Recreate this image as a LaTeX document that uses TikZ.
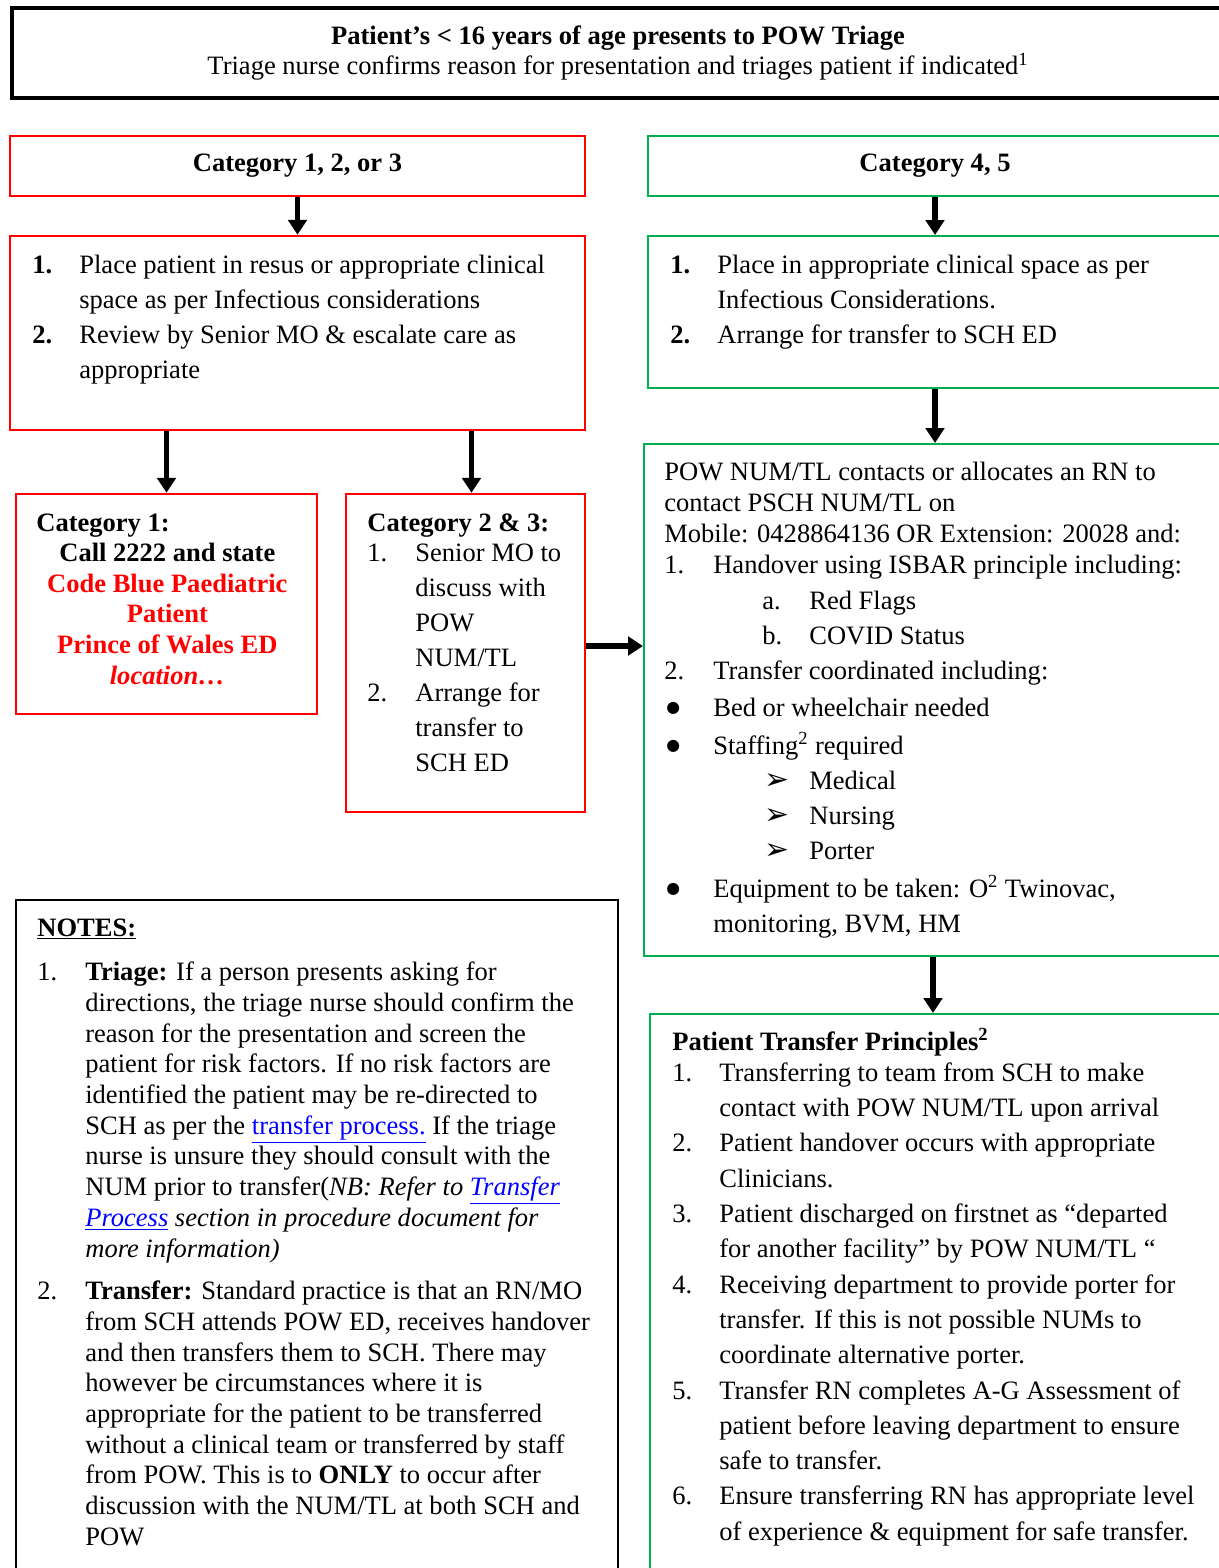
\documentclass[tikz,border=0pt]{standalone}
\usepackage{fontspec}
\setmainfont{Liberation Serif}
\newfontfamily\dejavu{DejaVu Sans}
\usetikzlibrary{positioning,arrows.meta}
\newlength\px
\setlength\px{0.02cm}
\definecolor{boxred}{RGB}{255,0,0}
\definecolor{boxgreen}{RGB}{0,176,80}
\definecolor{linkblue}{RGB}{0,0,255}
\newcommand\lbl[2]{\makebox[#1\px][l]{#2}}
\newcommand\ind[1]{\hspace*{#1\px}}
\newcommand\lnk[1]{\textcolor{linkblue}{\underline{#1}}}
\newcommand\tipmark{{\dejavu\fontsize{17pt}{17pt}\selectfont ➢}}
\newcommand\dotmark{\raisebox{1.8pt}{\dejavu\fontsize{9pt}{9pt}\selectfont ●}}

\begin{document}
\begin{tikzpicture}[x=0.02cm, y=-0.02cm,
    black box/.style={draw, line width=1.6pt, inner sep=0pt},
    red box/.style={draw=boxred, line width=1.4pt, inner sep=0pt},
    green box/.style={draw=boxgreen, line width=1.2pt, inner sep=0pt},
    box font/.style={font=\fontsize{15.1pt}{30\px}\selectfont},
    txt/.style={inner sep=0pt, anchor=base west, font=\fontsize{15.1pt}{35\px}\selectfont,
      execute at begin node={\begin{minipage}[t]{#1\px}},
      execute at end node={\end{minipage}}},
    txt/.default=560,
    flow/.style={line width=3.3pt, -{Triangle[length=8.5pt,width=10.5pt]}}]

  \useasboundingbox (0,0) rectangle (1219,1568);
  \clip (0,0) rectangle (1219,1568);

  % boxes
  \node[black box, box font, line width=1.8pt, align=center, minimum width=1212\px, minimum height=90\px] (triage) at (618,53)
    {\textbf{Patient’s < 16 years of age presents to POW Triage}\\Triage nurse confirms reason for presentation and triages patient if indicated\textsuperscript{1}};
  \node[red box, box font, minimum width=575\px, minimum height=60\px] (cat123) at (297.5,166) {\textbf{Category 1, 2, or 3}};
  \node[green box, box font, minimum width=574\px, minimum height=60\px] (cat45) at (935,166) {\textbf{Category 4, 5}};
  \node[red box, minimum width=575\px, minimum height=194\px] (redsteps) at (297.5,333) {};
  \node[green box, minimum width=574\px, minimum height=152\px] (greensteps) at (935,312) {};
  \node[red box, minimum width=301\px, minimum height=220\px] (cat1) at (166.5,604) {};
  \node[red box, minimum width=239\px, minimum height=318\px] (cat23) at (465.5,653) {};
  \node[green box, minimum width=578\px, minimum height=512\px] (contact) at (933,700) {};
  \node[green box, minimum width=572\px, minimum height=558\px] (principles) at (936,1293) {};
  \node[black box, line width=1.4pt, minimum width=602\px, minimum height=672\px] (notes) at (317,1236) {};

  % box texts
  \node[txt] (redtext) at (32,273) {\lbl{47}{\textbf{1.}}Place patient in resus or appropriate clinical\\
    \ind{47}space as per Infectious considerations\\
    \lbl{47}{\textbf{2.}}Review by Senior MO \& escalate care as\\
    \ind{47}appropriate};
  \node[txt] (greentext) at (670,273) {\lbl{47}{\textbf{1.}}Place in appropriate clinical space as per\\
    \ind{47}Infectious Considerations.\\
    \lbl{47}{\textbf{2.}}Arrange for transfer to SCH ED};
  \node[txt=262, font=\bfseries\fontsize{15.1pt}{30.6\px}\selectfont] (cat1text) at (36,531)
    {\centering\makebox[262\px][l]{Category 1:}\\Call 2222 and state\\
    \textcolor{boxred}{Code Blue Paediatric}\\\textcolor{boxred}{Patient}\\
    \textcolor{boxred}{Prince of Wales ED}\\\textcolor{boxred}{\itshape location…}\par};
  \node[txt=230] (cat23text) at (367,531) {\textbf{Category 2 \& 3:}\\[-5\px]
    \lbl{48}{1.}Senior MO to\\ \ind{48}discuss with\\ \ind{48}POW\\ \ind{48}NUM/TL\\
    \lbl{48}{2.}Arrange for\\ \ind{48}transfer to\\ \ind{48}SCH ED};
  \node[txt, font=\fontsize{15.1pt}{31\px}\selectfont] (contacttext) at (664,480)
    {POW NUM/TL contacts or allocates an RN to\\
    contact PSCH NUM/TL on\\
    Mobile: 0428864136 OR Extension: 20028 and:\\
    \lbl{49}{1.}Handover using ISBAR principle including:\\[5\px]
    \ind{98}\lbl{47}{a.}Red Flags\\[4\px]
    \ind{98}\lbl{47}{b.}COVID Status\\[4\px]
    \lbl{49}{2.}Transfer coordinated including:\\[6\px]
    \ind{2}\lbl{47}{\dotmark}Bed or wheelchair needed\\[7\px]
    \ind{2}\lbl{47}{\dotmark}Staffing\textsuperscript{2} required\\[4\px]
    \ind{100}\lbl{45}{\tipmark}Medical\\[4\px]
    \ind{100}\lbl{45}{\tipmark}Nursing\\[4\px]
    \ind{100}\lbl{45}{\tipmark}Porter\\[7\px]
    \ind{2}\lbl{47}{\dotmark}Equipment to be taken: O\textsuperscript{2} Twinovac,\\[4\px]
    \ind{49}monitoring, BVM, HM};
  \node[txt, font=\fontsize{15.1pt}{35.3\px}\selectfont] (principlestext) at (672,1050)
    {\textbf{Patient Transfer Principles\textsuperscript{2}}\\[-4\px]
    \lbl{47}{1.}Transferring to team from SCH to make\\
    \ind{47}contact with POW NUM/TL upon arrival\\
    \lbl{47}{2.}Patient handover occurs with appropriate\\
    \ind{47}Clinicians.\\
    \lbl{47}{3.}Patient discharged on firstnet as “departed\\
    \ind{47}for another facility” by POW NUM/TL “\\
    \lbl{47}{4.}Receiving department to provide porter for\\
    \ind{47}transfer. If this is not possible NUMs to\\
    \ind{47}coordinate alternative porter.\\
    \lbl{47}{5.}Transfer RN completes A-G Assessment of\\
    \ind{47}patient before leaving department to ensure\\
    \ind{47}safe to transfer.\\
    \lbl{47}{6.}Ensure transferring RN has appropriate level\\
    \ind{47}of experience \& equipment for safe transfer.};
  \node[txt, font=\fontsize{15.1pt}{30.7\px}\selectfont] (notestext) at (37,936)
    {\textbf{\underline{NOTES:}}\\[14\px]
    \lbl{48}{1.}\textbf{Triage:} If a person presents asking for\\
    \ind{48}directions, the triage nurse should confirm the\\
    \ind{48}reason for the presentation and screen the\\
    \ind{48}patient for risk factors. If no risk factors are\\
    \ind{48}identified the patient may be re-directed to\\
    \ind{48}SCH as per the \lnk{transfer process.} If the triage\\
    \ind{48}nurse is unsure they should consult with the\\
    \ind{48}NUM prior to transfer(\textit{NB: Refer to \lnk{Transfer}}\\
    \ind{48}\textit{\lnk{Process} section in procedure document for}\\
    \ind{48}\textit{more information)}\\[12\px]
    \lbl{48}{2.}\textbf{Transfer:} Standard practice is that an RN/MO\\
    \ind{48}from SCH attends POW ED, receives handover\\
    \ind{48}and then transfers them to SCH. There may\\
    \ind{48}however be circumstances where it is\\
    \ind{48}appropriate for the patient to be transferred\\
    \ind{48}without a clinical team or transferred by staff\\
    \ind{48}from POW. This is to \textbf{ONLY} to occur after\\
    \ind{48}discussion with the NUM/TL at both SCH and\\
    \ind{48}POW};

  % connectors
  \coordinate (c23top) at ([xshift=6\px]cat23.north);
  \coordinate (c23side) at ([yshift=7\px]cat23.east);
  \draw[flow] (cat123) -- (redsteps);
  \draw[flow] (cat45) -- (greensteps);
  \draw[flow] (redsteps.south -| cat1.north) -- (cat1.north);
  \draw[flow] (redsteps.south -| c23top) -- (c23top);
  \draw[flow] (greensteps.south) -- (greensteps.south |- contact.north);
  \draw[flow] (c23side) -- (c23side -| contact.west);
  \draw[flow] (contact.south) -- (contact.south |- principles.north);
\end{tikzpicture}
\end{document}
